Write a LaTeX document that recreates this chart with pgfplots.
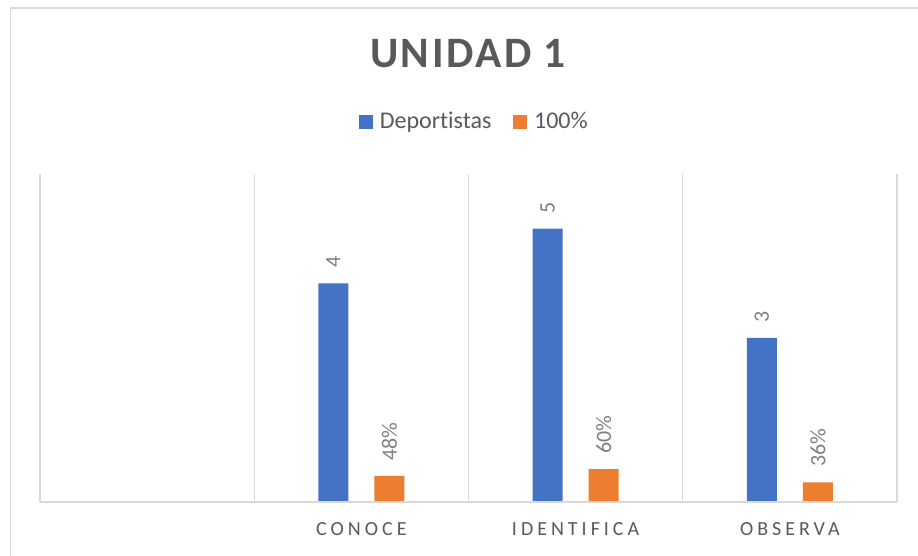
\documentclass[border=0pt]{standalone}
\usepackage{pgfplots}
\pgfplotsset{compat=1.18}
\usepackage{fontspec}
\setmainfont{Carlito}[Ligatures=NoCommon]
\newfontfamily\titlefont[LetterSpace=6]{Carlito}
\newfontfamily\catfont[LetterSpace=20]{Carlito}
\definecolor{barblue}{HTML}{4472C4}
\definecolor{barorange}{HTML}{ED7D31}
\definecolor{gridgray}{HTML}{D9D9D9}
\definecolor{textgray}{HTML}{595959}
\definecolor{labelgray}{HTML}{7F7F7F}
\begin{document}
\begin{tikzpicture}
\path[use as bounding box] (0,0) rectangle (459pt,278pt);
% outer chart frame (left and top edges visible)
\draw[gridgray, line width=0.75pt] (5.25pt,0) -- (5.25pt,274pt) -- (459pt,274pt);
% title
\node[anchor=base, text=textgray, font=\titlefont\bfseries\fontsize{21.7}{24}\selectfont] at (234pt,244pt) {UNIDAD 1};
\begin{axis}[
    at={(20pt,27pt)}, anchor=south west,
    scale only axis,
    width=428.5pt, height=164pt,
    xmin=-0.5, xmax=3.5,
    ymin=0, ymax=6,
    axis line style={draw=none},
    ytick=\empty,
    xtick={1,2,3},
    xticklabels={CONOCE,IDENTIFICA,OBSERVA},
    major tick length=0pt,
    xticklabel style={anchor=base, yshift=-17pt, text=textgray, font=\catfont\fontsize{10}{12}\selectfont},
    extra x ticks={-0.5,0.5,1.5,2.5,3.5},
    extra x tick labels={},
    extra x tick style={grid=major, major grid style={gridgray, line width=0.75pt}},
    ybar=13pt, bar width=15pt,
    point meta=explicit symbolic,
    nodes near coords,
    every node near coord/.append style={rotate=90, anchor=west, inner xsep=7.5pt, text=labelgray, font=\fontsize{11}{13}\selectfont},
    legend style={at={(0.5,1)}, anchor=center, xshift=3.5pt, yshift=26pt, draw=none, fill=none,
        legend columns=2, text=textgray, font=\fontsize{12}{14}\selectfont,
        /tikz/every even column/.append style={column sep=9pt}},
    legend image code/.code={\fill[#1, draw=none] (0pt,-3.5pt) rectangle (7pt,3.5pt);
        \path (8.3pt,0pt);},
    clip=false
]
\addplot[fill=barblue, draw=none] coordinates {(1,4) [4] (2,5) [5] (3,3) [3]};
\addlegendentry{Deportistas}
\addplot[fill=barorange, draw=none] coordinates {(1,0.48) [48\%] (2,0.60) [60\%] (3,0.36) [36\%]};
\addlegendentry{100\%}
\draw[gridgray, line width=0.75pt] (rel axis cs:0,0) -- (rel axis cs:1,0);
\end{axis}
\end{tikzpicture}
\end{document}
